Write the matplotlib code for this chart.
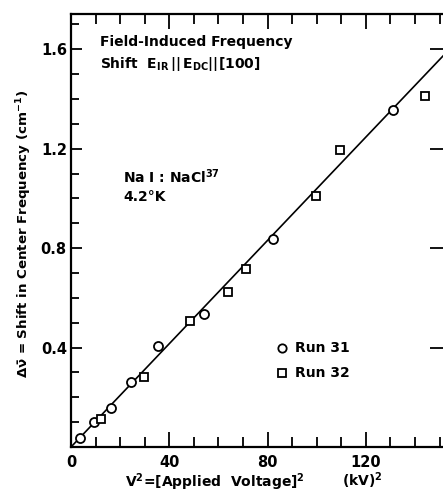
import matplotlib
matplotlib.use("Agg")
import matplotlib.pyplot as plt
from matplotlib.ticker import MultipleLocator, FixedLocator

plt.rcParams['font.family'] = ['DejaVu Sans']
plt.rcParams['mathtext.fontset'] = 'dejavusans'
plt.rcParams['mathtext.default'] = 'bf'

# Data
run31_x = [3.7, 9.3, 16.2, 24.4, 35.5, 54.3, 82.4, 130.9]
run31_y = [0.035, 0.099, 0.158, 0.26, 0.405, 0.536, 0.838, 1.357]
run32_x = [12.1, 29.8, 48.4, 64.0, 71.3, 99.6, 109.5, 144.1]
run32_y = [0.113, 0.28, 0.506, 0.622, 0.715, 1.01, 1.194, 1.414]
fit_x = [0.0, 153.0]
fit_y = [0.0, 1.59]
xticks = [0, 40, 80, 120]
xticklabels = ['0', '40', '80', '120']
yticks = [0.4, 0.8, 1.2, 1.6]
yticklabels = ['0.4', '0.8', '1.2', '1.6']

fig = plt.figure(figsize=(4.43, 4.92), dpi=100)
ax = fig.add_axes([71/443, 45/492, 376/443, 433/492])
ax.set_xlim(0, 153)
ax.set_ylim(0, 1.742)

ax.plot(fit_x, fit_y, color='black', lw=1.2, zorder=2)
ax.plot(run31_x, run31_y, 'o', ms=6.5, mfc='white', mec='black', mew=1.3, zorder=3)
ax.plot(run32_x, run32_y, 's', ms=6, mfc='white', mec='black', mew=1.3, zorder=3)

for s in ax.spines.values():
    s.set_linewidth(1.6)

ax.xaxis.set_major_locator(FixedLocator(xticks))
ax.set_xticklabels(xticklabels)
ax.xaxis.set_minor_locator(MultipleLocator(10))
ax.yaxis.set_major_locator(FixedLocator(yticks))
ax.set_yticklabels(yticklabels)
ax.yaxis.set_minor_locator(MultipleLocator(0.1))

ax.tick_params(axis='x', which='both', direction='in', top=True, bottom=True,
               width=1.3, labelsize=10.5, pad=6)
ax.tick_params(axis='x', which='major', length=11)
ax.tick_params(axis='x', which='minor', length=7)
ax.tick_params(axis='y', which='both', direction='in', left=True, right=False,
               width=1.3, labelsize=10.5, pad=3)
ax.tick_params(axis='y', which='major', length=8)
ax.tick_params(axis='y', which='minor', length=6)
for lab in ax.get_xticklabels() + ax.get_yticklabels():
    lab.set_fontweight('bold')

# right side inward major ticks (spine is beyond the image edge)
axr = ax.secondary_yaxis('right')
axr.yaxis.set_major_locator(FixedLocator(yticks))
axr.tick_params(direction='in', length=12, width=1.3, labelright=False)

ax.text(0.078, 0.935, 'Field-Induced Frequency', transform=ax.transAxes,
        fontsize=10, fontweight='bold', ha='left', va='center')
ax.text(0.078, 0.885, r'Shift  $E_{IR}\,||\,E_{DC}||[100]$', transform=ax.transAxes,
        fontsize=10, fontweight='bold', ha='left', va='center')
ax.text(0.138, 0.625, r'Na I : NaCl$^{37}$', transform=ax.transAxes,
        fontsize=10, fontweight='bold', ha='left', va='center')
ax.text(0.138, 0.578, '4.2°K', transform=ax.transAxes,
        fontsize=10, fontweight='bold', ha='left', va='center')

ax.plot([86], [0.4], 'o', ms=6, mfc='white', mec='black', mew=1.3)
ax.plot([86], [0.296], 's', ms=5.5, mfc='white', mec='black', mew=1.3)
ax.text(91, 0.4, 'Run 31', fontsize=10, fontweight='bold', ha='left', va='center')
ax.text(91, 0.296, 'Run 32', fontsize=10, fontweight='bold', ha='left', va='center')

fig.text(24/443, 1 - 234/492,
         r'$\Delta\bar{\nu}$ = Shift in Center Frequency (cm$^{-1}$)',
         fontsize=9.6, fontweight='bold', rotation=90, ha='center', va='center')
fig.text(215/443, 1 - 482/492, r'V$^2$=[Applied  Voltage]$^2$', fontsize=10,
         fontweight='bold', ha='center', va='center')
fig.text(362/443, 1 - 481/492, r'(kV)$^2$', fontsize=10,
         fontweight='bold', ha='center', va='center')

fig.savefig('out.png', dpi=100)
